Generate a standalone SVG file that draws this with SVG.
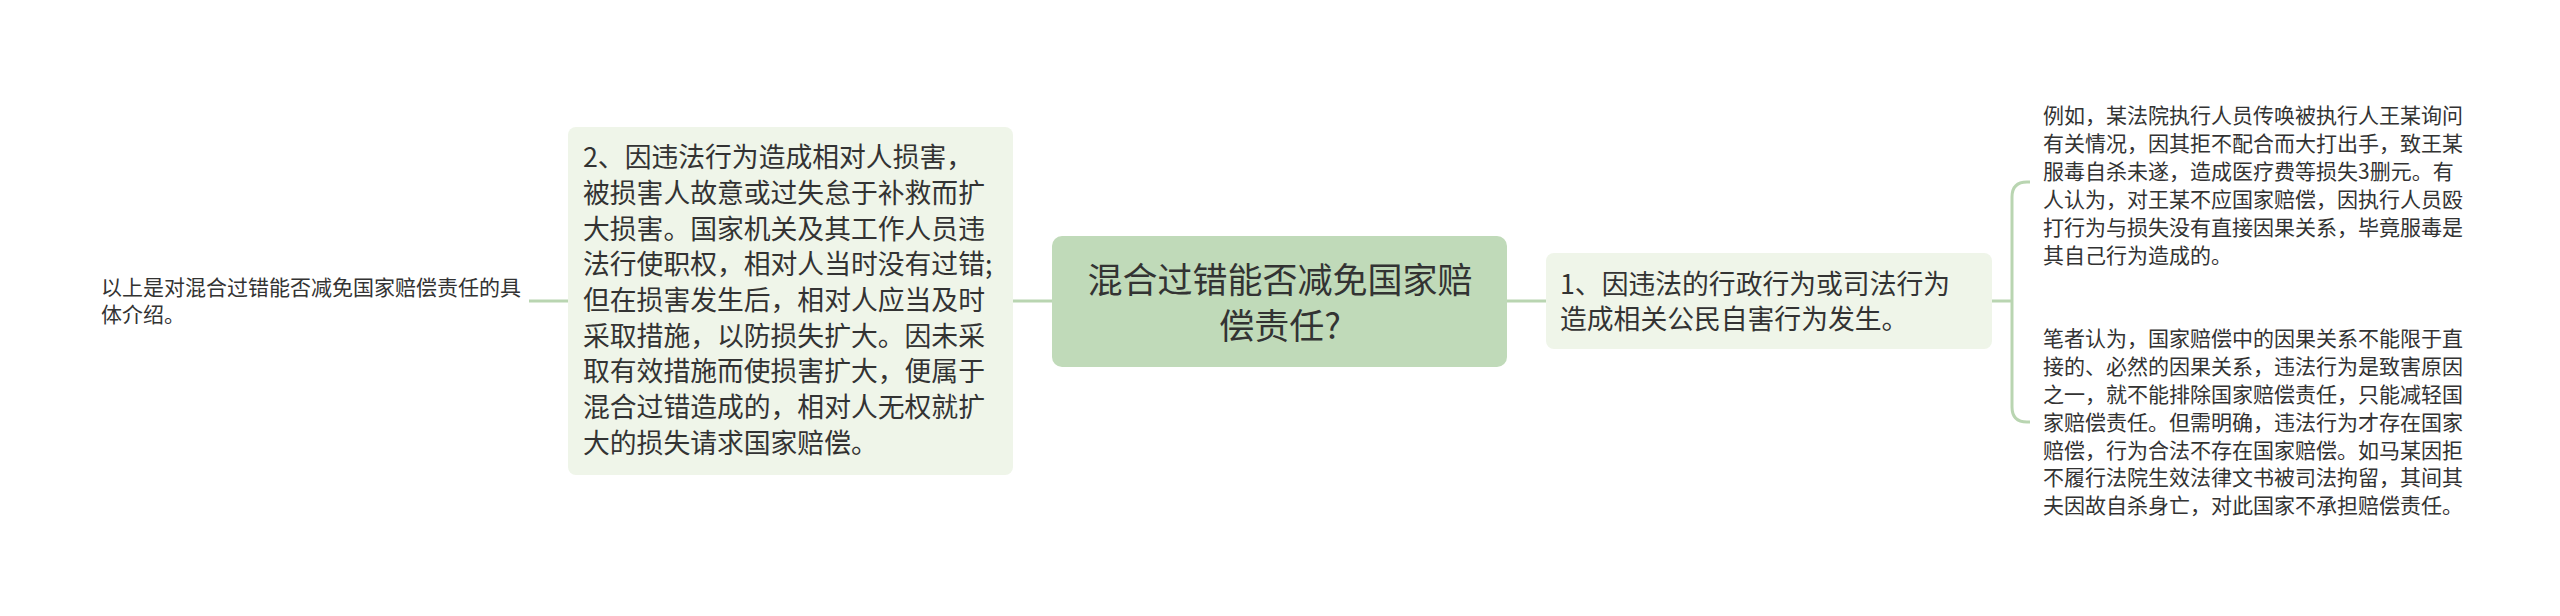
<svg xmlns="http://www.w3.org/2000/svg" width="2560" height="616" viewBox="0 0 2560 616">
<style>
text{font-family:"Noto Sans CJK SC","Noto Sans",sans-serif;fill:#333333;}
.c{font-size:35px;}
.m{font-size:26.8px;}
.s{font-size:21px;}
.ln{fill:none;stroke:#b9d5b1;stroke-width:3;}
.root{fill:#c0dab9;}
.sub{fill:#eff5e9;}
</style>
<rect width="2560" height="616" fill="#ffffff"/>
<g id="connectors">
<path class="ln" d="M1052 301 H1013"/>
<path class="ln" d="M568 301 H529"/>
<path class="ln" d="M1507 301 H1546"/>
<path class="ln" d="M1992 301 H2012"/>
<path class="ln" d="M2030 182 H2027 Q2012 182 2012 197 V407 Q2012 422 2027 422 H2030"/>
</g>
<g id="root">
<rect class="root" x="1052" y="236" width="455" height="131" rx="10"/>
<text class="c" x="1280" y="293" text-anchor="middle">混合过错能否减免国家赔</text>
<text class="c" x="1280" y="339" text-anchor="middle">偿责任?</text>
</g>
<g id="node2">
<rect class="sub" x="568" y="127" width="445" height="348" rx="8"/>
<text class="m" x="583" y="167">2、因违法行为造成相对人损害，</text>
<text class="m" x="583" y="203">被损害人故意或过失怠于补救而扩</text>
<text class="m" x="583" y="239">大损害。国家机关及其工作人员违</text>
<text class="m" x="583" y="274">法行使职权，相对人当时没有过错;</text>
<text class="m" x="583" y="310">但在损害发生后，相对人应当及时</text>
<text class="m" x="583" y="346">采取措施，以防损失扩大。因未采</text>
<text class="m" x="583" y="381">取有效措施而使损害扩大，便属于</text>
<text class="m" x="583" y="417">混合过错造成的，相对人无权就扩</text>
<text class="m" x="583" y="453">大的损失请求国家赔偿。</text>
</g>
<g id="summary">
<text class="s" x="101" y="295">以上是对混合过错能否减免国家赔偿责任的具</text>
<text class="s" x="101" y="322">体介绍。</text>
</g>
<g id="node1">
<rect class="sub" x="1546" y="253" width="446" height="96" rx="8"/>
<text class="m" x="1560" y="294">1、因违法的行政行为或司法行为</text>
<text class="m" x="1560" y="329">造成相关公民自害行为发生。</text>
</g>
<g id="example">
<text class="s" x="2043" y="123">例如，某法院执行人员传唤被执行人王某询问</text>
<text class="s" x="2043" y="151">有关情况，因其拒不配合而大打出手，致王某</text>
<text class="s" x="2043" y="179">服毒自杀未遂，造成医疗费等损失3删元。有</text>
<text class="s" x="2043" y="207">人认为，对王某不应国家赔偿，因执行人员殴</text>
<text class="s" x="2043" y="235">打行为与损失没有直接因果关系，毕竟服毒是</text>
<text class="s" x="2043" y="263">其自己行为造成的。</text>
</g>
<g id="opinion">
<text class="s" x="2043" y="346">笔者认为，国家赔偿中的因果关系不能限于直</text>
<text class="s" x="2043" y="374">接的、必然的因果关系，违法行为是致害原因</text>
<text class="s" x="2043" y="402">之一，就不能排除国家赔偿责任，只能减轻国</text>
<text class="s" x="2043" y="430">家赔偿责任。但需明确，违法行为才存在国家</text>
<text class="s" x="2043" y="458">赔偿，行为合法不存在国家赔偿。如马某因拒</text>
<text class="s" x="2043" y="485">不履行法院生效法律文书被司法拘留，其间其</text>
<text class="s" x="2043" y="513">夫因故自杀身亡，对此国家不承担赔偿责任。</text>
</g>
</svg>
